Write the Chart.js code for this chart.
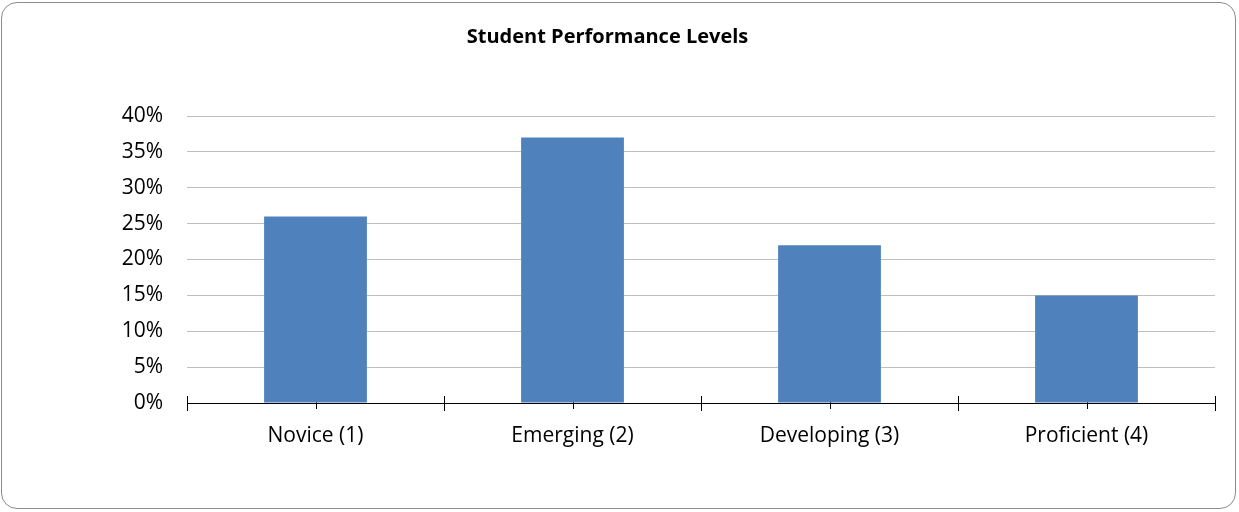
<!DOCTYPE html>
<html>
<head>
<meta charset="utf-8">
<script src="https://cdn.jsdelivr.net/npm/chart.js@4"></script>
<style>
  html, body { margin: 0; padding: 0; background: #fff; }
  .frame {
    position: absolute; left: 1px; top: 2px; width: 1235px; height: 507px;
    border: 1px solid #8c8c8c; border-radius: 16px; box-sizing: border-box;
  }
  .wrap { position: absolute; left: 0; top: 0; width: 1239px; height: 512px; }
</style>
</head>
<body>
<div class="frame"></div>
<div class="wrap"><canvas id="chart"></canvas></div>
<script>
// Datos del gráfico
const categories = ['Novice (1)', 'Emerging (2)', 'Developing (3)', 'Proficient (4)'];
const shares     = [0.26, 0.37, 0.22, 0.15];
const yTicks     = [0, 0.05, 0.10, 0.15, 0.20, 0.25, 0.30, 0.35, 0.40];

const FONT = 'Open Sans';

// Marcas del eje X: en los límites y en el centro de cada categoría
const axisTicks = {
  id: 'axisTicks',
  beforeDatasetsDraw(chart) {
    const { ctx, scales: { x } } = chart;
    const y0 = x.top;
    ctx.save();
    ctx.strokeStyle = '#000';
    ctx.lineWidth = 1;
    ctx.beginPath();
    categories.forEach((c, i) => {
      const cx = Math.round(x.getPixelForValue(i)) + 0.5;
      ctx.moveTo(cx, y0 - 5); ctx.lineTo(cx, y0 + 6);
    });
    for (let i = 0; i <= categories.length; i++) {
      const bx = Math.round(x.getPixelForValue(i - 0.5)) + 0.5;
      ctx.moveTo(bx, y0 - 7); ctx.lineTo(bx, y0 + 8);
    }
    ctx.stroke();
    ctx.restore();
  }
};

new Chart(document.getElementById('chart'), {
  type: 'bar',
  data: {
    labels: categories,
    datasets: [{
      data: shares,
      backgroundColor: '#4f81bd',
      borderWidth: 0,
      barPercentage: 0.4,
      categoryPercentage: 1
    }]
  },
  options: {
    responsive: true,
    maintainAspectRatio: false,
    animation: false,
    layout: { padding: { left: 0, right: 24, top: 0, bottom: 0 } },
    plugins: {
      legend: { display: false },
      tooltip: { enabled: false },
      title: {
        display: true,
        text: 'Student Performance Levels',
        color: '#000',
        font: { family: FONT, size: 20, weight: 'bold' },
        padding: { top: 25, bottom: 67 }
      }
    },
    scales: {
      x: {
        grid: { display: false },
        border: { display: true, color: '#000', width: 1 },
        ticks: { color: '#000', font: { family: FONT, size: 21 }, padding: 12 },
        afterFit(s) { s.height = 109; }
      },
      y: {
        min: 0, max: 0.4,
        afterBuildTicks(s) { s.ticks = yTicks.map(v => ({ value: v })); },
        grid: { color: '#bfbfbf', drawTicks: false },
        border: { display: false },
        ticks: {
          color: '#000',
          font: { family: FONT, size: 21 },
          padding: 24,
          callback: v => Math.round(v * 100) + '%'
        },
        afterFit(s) { s.width = 187; }
      }
    }
  },
  plugins: [axisTicks]
});
</script>
</body>
</html>
